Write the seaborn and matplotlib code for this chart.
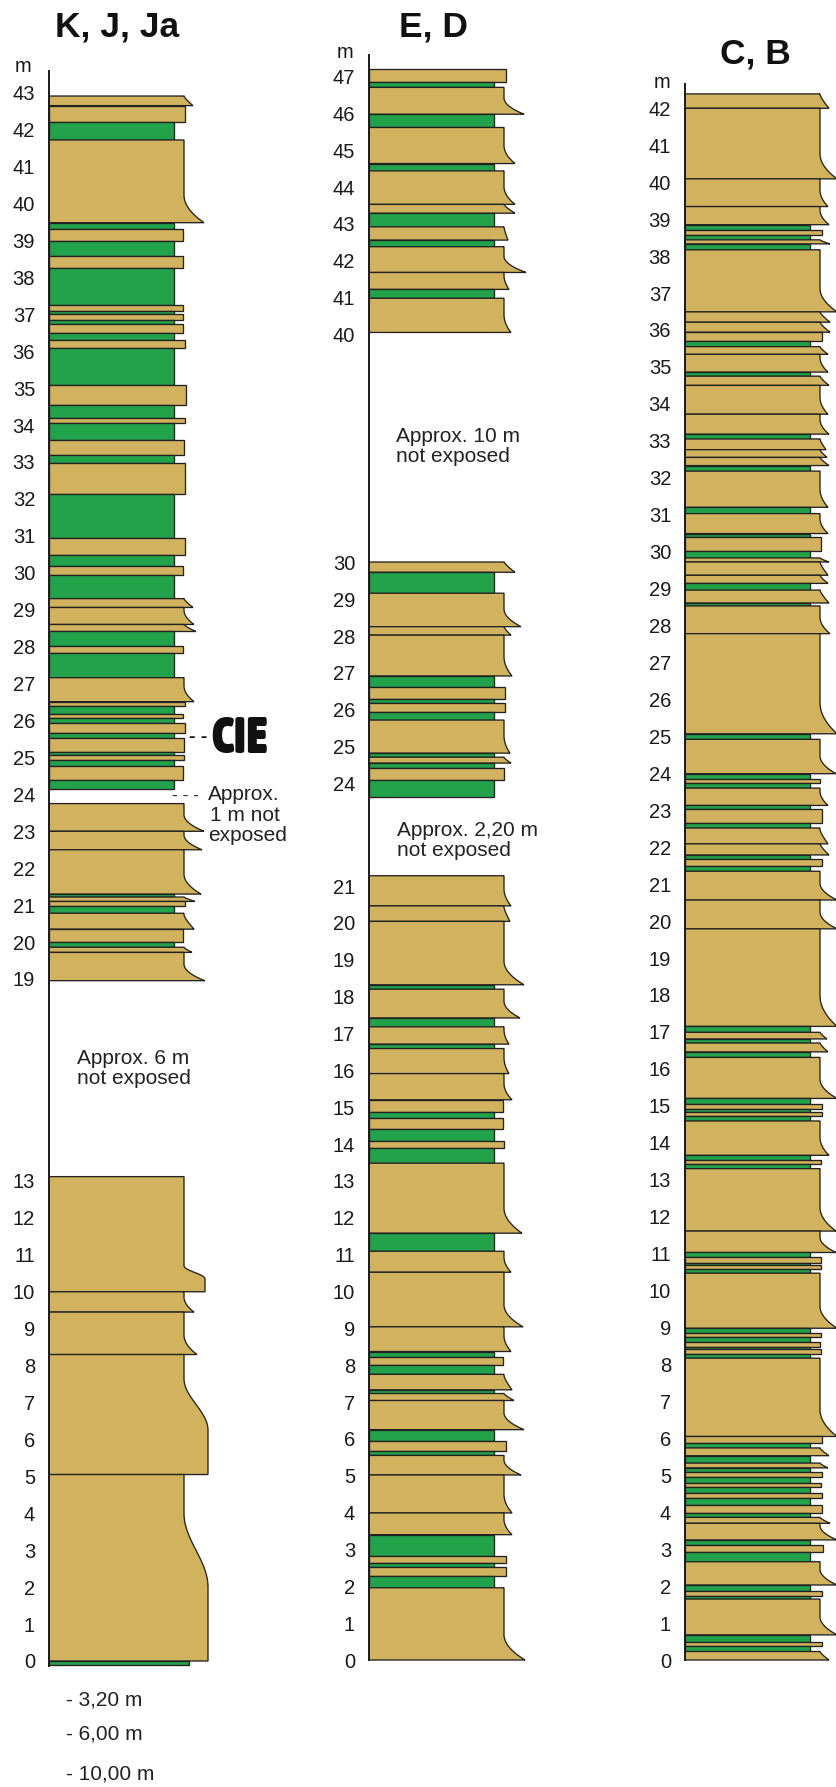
import numpy as np
import matplotlib
matplotlib.use("Agg")
import matplotlib.pyplot as plt
from matplotlib import font_manager as fm
import seaborn as sns

# ------------------------------------------------------------------ data
TITLES = ["K, J, Ja", "E, D", "C, B"]

# K, J, Ja : bed boundaries (m, top -> bottom), lithology per bed
# (s = sandstone, m = green mudstone, x = not exposed) and grain (base width)
kj_bounds = [42.91, 42.65, 42.22, 41.72, 39.48, 39.30, 38.98, 38.57, 38.26, 37.24,
             37.08, 37.00, 36.84, 36.74, 36.49, 36.29, 36.08, 35.09, 34.54, 34.20,
             34.05, 33.60, 33.18, 32.97, 32.13, 30.95, 30.47, 30.18, 29.95, 29.30,
             29.06, 28.60, 28.41, 28.01, 27.83, 27.16, 26.51, 26.40, 26.18, 26.07,
             25.92, 25.65, 25.52, 25.14, 25.07, 24.93, 24.76, 24.40, 24.15, 23.75,
             23.00, 22.50, 21.30, 21.22, 21.10, 20.97, 20.78, 20.35, 20.00, 19.86,
             19.72, 18.95, 13.13, 10.00, 9.45, 8.30, 5.05, 0.00, -0.12]
kj_lith = list("ssmsmsmsms" "msmsmsmsms" "msmsmsmsms" "ssmsmssmsm"
               "smsmsmsmxs" "ssmssmssms" "sxsssssm")
kj_grain = [144, 136, 125, 155, 125, 134, 125, 134, 125, 134,
            125, 134, 125, 134, 125, 136, 125, 137, 125, 136,
            125, 135, 125, 136, 125, 136, 125, 134, 125, 144,
            145, 147, 125, 134, 125, 145, 136, 125, 134, 125,
            136, 125, 135, 125, 135, 125, 134, 125, 0, 155,
            153, 152, 125, 146, 136, 125, 145, 134, 125, 143,
            156, 0, 156, 145, 148, 159, 159, 140]
# beds with a broad rounded coarse base: base -> (flat part, flare part) in m
kj_round = {10.00: (0.35, 0.35), 5.05: (1.2, 1.4), 0.00: (2.0, 2.0)}
kj_ticks = list(range(0, 14)) + list(range(19, 44))

# E, D
ed_bounds = [47.21, 46.85, 46.71, 45.98, 45.62, 44.64, 44.44, 43.53, 43.29, 42.92,
             42.56, 42.38, 41.68, 41.22, 40.98, 40.05, 30.03, 29.74, 29.17, 28.26,
             28.03, 26.92, 26.63, 26.29, 26.18, 25.95, 25.72, 24.82, 24.71, 24.55,
             24.41, 24.08, 23.60, 21.30, 20.46, 20.04, 18.32, 18.20, 17.42, 17.18,
             16.71, 16.59, 15.91, 15.20, 14.87, 14.71, 14.40, 14.07, 13.89, 13.48,
             11.58, 11.09, 10.52, 9.04, 8.37, 8.21, 8.00, 7.75, 7.33, 7.23,
             7.04, 6.25, 5.95, 5.67, 5.55, 5.02, 3.99, 3.40, 2.81, 2.63,
             2.52, 2.29, 1.96, 0.00]
ed_lith = list("smsmsmssms" "mssmsxsmss" "smsmsmsmsm" "smxsssmsms"
               "msssmsmsms" "msssmsmsms" "smsmsssmsm" "sms")
ed_grain = [137, 125, 155, 125, 146, 125, 146, 146, 125, 139,
            125, 157, 140, 125, 142, 0, 146, 125, 152, 142,
            143, 125, 136, 125, 136, 125, 141, 125, 142, 125,
            135, 125, 0, 142, 141, 155, 125, 151, 125, 140,
            125, 140, 143, 134, 125, 134, 125, 135, 125, 153,
            125, 142, 154, 142, 125, 134, 125, 143, 125, 145,
            155, 125, 137, 125, 152, 143, 143, 125, 137, 125,
            137, 125, 156]
ed_ticks = list(range(0, 22)) + list(range(24, 31)) + list(range(40, 48))

# C, B
cb_bounds = [42.39,
             42.00, 40.09, 39.34, 38.85, 38.70, 38.56, 38.44, 38.33, 38.17, 36.49,
             36.21, 35.94, 35.70, 35.55, 35.34, 34.86, 34.75, 34.50, 33.72, 33.18,
             33.05, 32.76, 32.55, 32.33, 32.18, 31.20, 31.03, 30.49, 30.40, 30.01,
             29.83, 29.72, 29.36, 29.14, 28.96, 28.61, 28.53, 27.78, 25.07, 24.92,
             23.99, 23.85, 23.73, 23.60, 23.13, 23.04, 22.66, 22.52, 22.09, 21.79,
             21.67, 21.50, 21.35, 20.57, 19.79, 17.15, 16.99, 16.81, 16.70, 16.46,
             16.31, 15.20, 15.04, 14.91, 14.84, 14.73, 14.59, 13.66, 13.54, 13.42,
             13.30, 11.61, 11.03, 10.90, 10.74, 10.68, 10.59, 10.47, 8.98, 8.84,
             8.74, 8.62, 8.47, 8.41, 8.29, 8.17, 6.05, 5.87, 5.74, 5.53,
             5.33, 5.20, 5.08, 4.95, 4.78, 4.68, 4.53, 4.38, 4.20, 3.97,
             3.86, 3.70, 3.25, 3.11, 2.93, 2.66, 2.03, 1.88, 1.74, 1.65,
             0.68, 0.50, 0.38, 0.23, 0.00]
cb_lith = list("ssssmsmsms" "sssmssmsss" "msssmsmsms" "msssmsmssm"
               "smsmsmsmss" "msmsssmsms" "msmsmsmsms" "mssmsmsmsm"
               "smsmsmssms" "msmsmsmsms" "mssmsmsmsm" "smsms")
cb_grain = [144, 152, 143, 144, 125, 137, 125, 145, 125, 152,
            145, 145, 137, 125, 143, 143, 125, 144, 143, 144,
            125, 141, 142, 144, 125, 143, 125, 143, 125, 136,
            125, 144, 143, 143, 125, 144, 125, 145, 152, 125,
            151, 125, 135, 125, 143, 125, 137, 125, 143, 144,
            125, 137, 125, 152, 152, 152, 125, 142, 125, 143,
            125, 152, 125, 137, 125, 137, 125, 144, 125, 136,
            125, 151, 151, 125, 136, 125, 136, 125, 152, 125,
            136, 125, 135, 125, 136, 125, 152, 137, 125, 144,
            125, 143, 125, 137, 125, 136, 125, 137, 125, 137,
            125, 145, 152, 125, 138, 125, 152, 125, 137, 125,
            152, 125, 137, 125, 144]
cb_ticks = list(range(0, 43))

GAP_NOTES = ["Approx. 6 m", "not exposed", "Approx. 1 m not exposed",
             "Approx. 10 m", "Approx. 2,20 m"]
BELOW_NOTES = ["- 3,20 m", "- 6,00 m", "- 10,00 m"]

# ------------------------------------------------------------------ style
W, H = 837, 1787
SAND = "#D1B25E"
GREEN = "#22A34B"
EDGE = "#222222"
WTOP = 135          # sand width at the fine-grained top of a bed (px)
AXW = 175           # axes width in px

sns.set_theme(style="white")
plt.rcParams["font.family"] = ["Liberation Sans", "DejaVu Sans"]


def pick_condensed_font():
    """Find a heavy, condensed sans face for the CIE label (Impact-like)."""
    order = {"ultra-condensed": 0, "extra-condensed": 1, "condensed": 2,
             "semi-condensed": 3}
    wmap = {"bold": 700, "heavy": 900, "black": 900, "extra bold": 800,
            "ultrabold": 800, "semibold": 600, "demibold": 600}
    best = None
    for f in fm.fontManager.ttflist:
        st = str(f.stretch).lower()
        if st not in order:
            continue
        w = f.weight if isinstance(f.weight, int) else wmap.get(str(f.weight).lower(), 400)
        if w < 700:
            continue
        nm = f.name.lower()
        if "mono" in nm or "serif" in nm:
            continue
        key = (order[st], -w)
        if best is None or key < best[0]:
            best = (key, f.fname)
    if best is not None:
        return fm.FontProperties(fname=best[1])
    names = {f.name for f in fm.fontManager.ttflist}
    for n in ["Liberation Sans Narrow", "DejaVu Sans Condensed", "Roboto Condensed"]:
        if n in names:
            return fm.FontProperties(family=n, weight="bold")
    return fm.FontProperties(family="DejaVu Sans", weight="bold")


def interp_extrap(x, xp, fp):
    x = np.asarray(x, dtype=float)
    xp = np.asarray(xp, dtype=float)
    fp = np.asarray(fp, dtype=float)
    out = np.interp(x, xp, fp)
    s0 = (fp[1] - fp[0]) / (xp[1] - xp[0])
    s1 = (fp[-1] - fp[-2]) / (xp[-1] - xp[-2])
    out = np.where(x < xp[0], fp[0] + (x - xp[0]) * s0, out)
    out = np.where(x > xp[-1], fp[-1] + (x - xp[-1]) * s1, out)
    return out


def make_funcs(am, apx):
    am = np.asarray(am, float)
    neg = -np.asarray(apx, float)

    def fwd(m):
        return interp_extrap(m, am, neg)

    def inv(v):
        return interp_extrap(v, neg, am)
    return fwd, inv


def bed_edge(base, top, g, lt, rnd=None):
    y = np.linspace(base, top, 80)
    if lt != "s" or g <= 138:
        return y, np.full_like(y, float(g))
    h = top - base
    if rnd is not None:
        flat, fl = rnd
        t = np.clip((y - base - flat) / fl, 0, 1)
        gg = 0.5 * (1 + np.cos(np.pi * t))
    else:
        L = min(h, 0.3 + 0.2 * h)
        p = 2.0 if h > 0.45 else 1.3
        t = np.clip((y - base) / L, 0, 1)
        gg = (1 - t) ** p
    return y, WTOP + (g - WTOP) * gg


def draw_column(ax, bounds, lith, grain, rounded=None):
    rounded = rounded or {}
    assert len(bounds) == len(lith) + 1 == len(grain) + 1
    for i, (lt, g) in enumerate(zip(lith, grain)):
        top, base = bounds[i], bounds[i + 1]
        if lt == "x":
            continue
        y, x = bed_edge(base, top, g, lt, rounded.get(base) if lt == "s" else None)
        xs = np.concatenate([[0], x, [0]])
        ys = np.concatenate([[base], y, [top]])
        ax.fill(xs, ys, facecolor=SAND if lt == "s" else GREEN,
                edgecolor=EDGE, linewidth=0.95, joinstyle="miter")


columns = [
    dict(title=TITLES[0], sx=49, bounds=kj_bounds, lith=kj_lith, grain=kj_grain,
         rnd=kj_round, ticks=kj_ticks, am=[0, 13, 19, 43],
         apx=[1661, 1181, 979, 92.7], spine=(-0.13, 43.6),
         tpos=(117, 27), mpos=(23, 66)),
    dict(title=TITLES[1], sx=369, bounds=ed_bounds, lith=ed_lith, grain=ed_grain,
         rnd=None, ticks=ed_ticks, am=[0, 21, 24, 30, 40, 47],
         apx=[1660, 886, 783.3, 562.7, 334.3, 76.7], spine=(0, 47.6),
         tpos=(434, 27), mpos=(345, 53)),
    dict(title=TITLES[2], sx=685, bounds=cb_bounds, lith=cb_lith, grain=cb_grain,
         rnd=None, ticks=cb_ticks, am=[0, 42], apx=[1660, 108.3],
         spine=(0, 42.66), tpos=(755, 54), mpos=(662, 83)),
]

fig = plt.figure(figsize=(W / 100, H / 100), dpi=100)
fig.patch.set_facecolor("white")


def ftext(x, y, s, **kw):
    return fig.text(x / W, 1 - y / H, s, **kw)


for c in columns:
    ax = fig.add_axes([c["sx"] / W, 0, AXW / W, 1])
    ax.set_facecolor("none")
    fwd, inv = make_funcs(c["am"], c["apx"])
    ax.set_yscale("function", functions=(fwd, inv))
    ax.set_ylim(float(inv(-H)), float(inv(0.0)))
    ax.set_xlim(0, AXW)
    draw_column(ax, c["bounds"], c["lith"], c["grain"], c["rnd"])
    ax.set_yticks(c["ticks"])
    ax.set_yticklabels([str(t) for t in c["ticks"]])
    ax.set_xticks([])
    ax.yaxis.set_minor_locator(matplotlib.ticker.NullLocator())
    sns.despine(ax=ax, top=True, right=True, bottom=True)
    ax.spines["left"].set_bounds(*c["spine"])
    ax.spines["left"].set_linewidth(1.4)
    ax.spines["left"].set_color("#1a1a1a")
    ax.tick_params(axis="y", direction="out", length=7.5, width=0.9,
                   color="#333333", pad=2.5, labelsize=14.5, labelcolor="#1a1a1a")
    ax.grid(False)
    ftext(*c["tpos"], c["title"], ha="center", va="center",
          fontsize=25.5, fontweight="bold", color="#111111")
    ftext(*c["mpos"], "m", ha="center", va="center", fontsize=14.5,
          color="#1a1a1a")

# --- annotations, column K, J, Ja
cie_font = pick_condensed_font()
cie_font.set_size(36)
ftext(189, 738, "- -", ha="left", va="center", fontsize=14, fontweight="bold",
      color="#111111")
ftext(211, 739, "CIE", ha="left", va="center", fontproperties=cie_font,
      color="#111111")
ftext(172, 796, "- - -", ha="left", va="center", fontsize=12.5, color="#222222")
ftext(208, 795, "Approx.", ha="left", va="center", fontsize=15, color="#222222")
ftext(210, 816, "1 m not", ha="left", va="center", fontsize=15, color="#222222")
ftext(208, 836, "exposed", ha="left", va="center", fontsize=15, color="#222222")
ftext(77, 1058, GAP_NOTES[0], ha="left", va="center", fontsize=15, color="#222222")
ftext(77, 1078, GAP_NOTES[1], ha="left", va="center", fontsize=15, color="#222222")
for (yy, s) in zip([1700, 1734, 1774], BELOW_NOTES):
    ftext(66, yy, s, ha="left", va="center", fontsize=15, color="#222222")

# --- annotations, column E, D
ftext(396, 437, GAP_NOTES[3], ha="left", va="center", fontsize=15, color="#222222")
ftext(396, 457, GAP_NOTES[1], ha="left", va="center", fontsize=15, color="#222222")
ftext(397, 830, GAP_NOTES[4], ha="left", va="center", fontsize=15, color="#222222")
ftext(397, 850, GAP_NOTES[1], ha="left", va="center", fontsize=15, color="#222222")

fig.savefig("out.png", dpi=100, facecolor="white")
